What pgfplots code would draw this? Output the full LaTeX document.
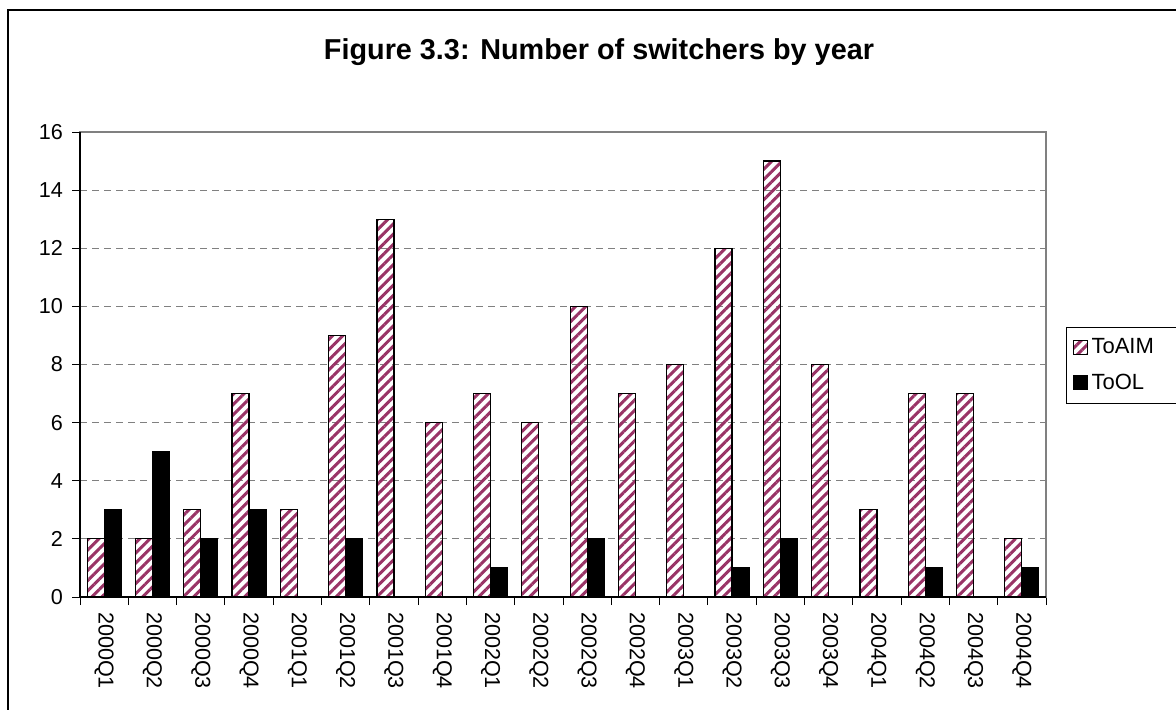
\documentclass[border=0pt]{standalone}
\usepackage{pgfplots}
\pgfplotsset{compat=1.18}
\usepackage{fontspec}
\setmainfont{Liberation Sans}
\usetikzlibrary{patterns.meta}
\definecolor{hatch}{HTML}{993366}
\definecolor{gridgray}{HTML}{808080}
\begin{document}
\begin{tikzpicture}
\path[use as bounding box] (0,0) rectangle (588pt,354.5pt);
\clip (0,0) rectangle (588pt,354.5pt);
\fill[white] (0,0) rectangle (588pt,354.5pt);
\draw[line width=0.6pt] (4pt,-10pt) rectangle (640pt,349.5pt);
\node[anchor=base, font=\fontsize{14.4}{17}\selectfont\bfseries] at (299.5pt,325pt) {Figure 3.3: Number of switchers by year};
\begin{axis}[
  at={(40pt,56pt)}, anchor=south west,
  scale only axis, width=483pt, height=232.5pt,
  xmin=-0.5, xmax=19.5, ymin=0, ymax=16,
  ybar, bar width=8.5pt,
  ytick={0,2,...,16},
  xtick={0,...,19},
  xticklabels={2000Q1,2000Q2,2000Q3,2000Q4,2001Q1,2001Q2,2001Q3,2001Q4,2002Q1,2002Q2,2002Q3,2002Q4,2003Q1,2003Q2,2003Q3,2003Q4,2004Q1,2004Q2,2004Q3,2004Q4},
  minor xtick={-0.5,0.5,...,19.5},
  xtick pos=bottom, ytick pos=left,
  tick align=outside,
  major tick length=4pt, minor tick length=4pt,
  major x tick style={draw=none},
  minor x tick style={black, line width=0.5pt},
  ytick style={black, line width=0.5pt},
  ymajorgrids,
  major grid style={gridgray, line width=0.6pt, dash pattern=on 3.5pt off 2.5pt},
  axis line style={gridgray, line width=0.6pt},
  tick label style={font=\fontsize{10.8}{13}\selectfont, black},
  /pgf/number format/assume math mode=true,
  xticklabel style={rotate=-90, anchor=west, xshift=0pt},
  yticklabel style={xshift=-1pt},
  legend style={at={(1.0207,0.5806)}, anchor=north west, draw=black, line width=0.5pt,
    font=\fontsize{11}{13}\selectfont, row sep=4.5pt, inner xsep=3pt, inner ysep=3.5pt,
    cells={anchor=west}, text width=45pt},
  legend image code/.code={\draw[#1, line width=0.5pt] (0pt,-3.5pt) rectangle (7pt,3.5pt);},
  after end axis/.code={
    \draw[black, line width=0.6pt] (rel axis cs:0,1) -- (rel axis cs:0,0) -- (rel axis cs:1,0);
  },
]
\addplot[bar shift=-4.25pt, draw=black, line width=0.6pt, pattern={Lines[angle=45, distance=3.6pt, line width=1.5pt]}, pattern color=hatch]
coordinates {(0,2) (1,2) (2,3) (3,7) (4,3) (5,9) (6,13) (7,6) (8,7) (9,6) (10,10) (11,7) (12,8) (13,12) (14,15) (15,8) (16,3) (17,7) (18,7) (19,2)};
\addlegendentry{ToAIM}
\addplot[bar shift=4.25pt, draw=black, line width=0.6pt, fill=black]
coordinates {(0,3) (1,5) (2,2) (3,3) (4,0) (5,2) (6,0) (7,0) (8,1) (9,0) (10,2) (11,0) (12,0) (13,1) (14,2) (15,0) (16,0) (17,1) (18,0) (19,1)};
\addlegendentry{ToOL}
\end{axis}
\end{tikzpicture}
\end{document}
